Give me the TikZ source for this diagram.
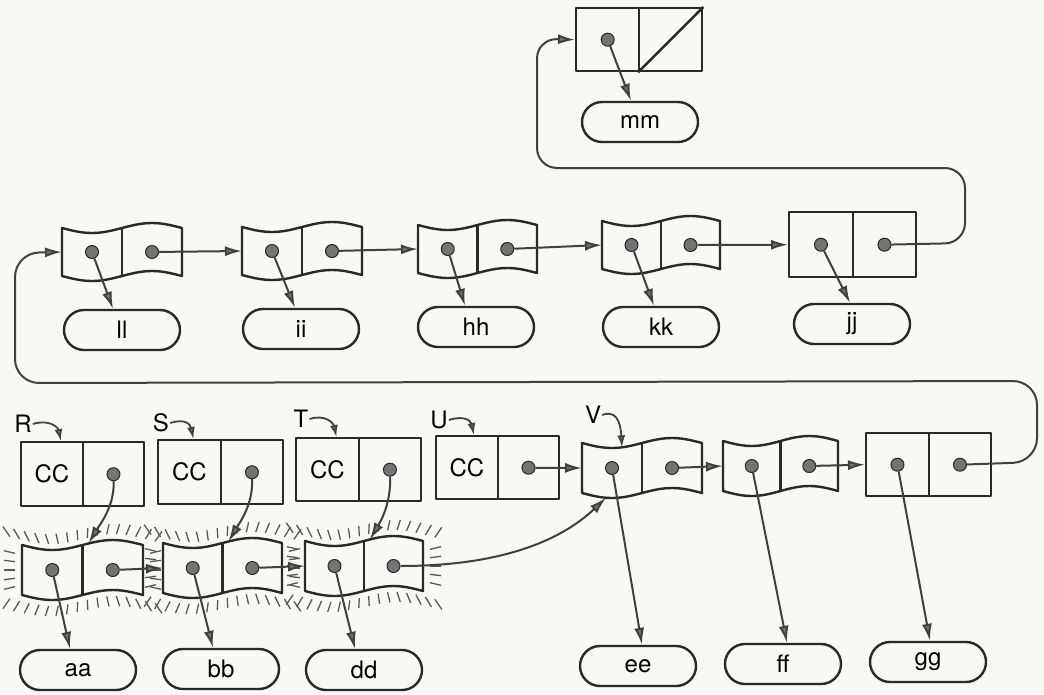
\documentclass[tikz,border=0pt]{standalone}
\usepackage{fontspec}
\setmainfont{TeX Gyre Heros}
\usetikzlibrary{arrows.meta,calc}
\definecolor{ink}{gray}{0.16}
\definecolor{ptrc}{gray}{0.25}
\definecolor{tipc}{gray}{0.45}
\definecolor{dotc}{gray}{0.45}
\definecolor{halc}{gray}{0.35}
\definecolor{paper}{RGB}{249,248,243}
\newcommand\dlabfont{\fontsize{24}{27}\selectfont}
% wavy two-cell record: name, x0, y0 (top), W, H
\newcommand\wavy[5]{%
  \draw[box] plot[domain=0:1,samples=30] ({#2+#4*\x},{#3+5*sin(360*\x)})
     -- plot[domain=0:1,samples=30] ({#2+#4*(1-\x)},{#3+#5+5*sin(360*(1-\x))}) -- cycle;
  \draw[box] ({#2+#4/2},#3) -- ({#2+#4/2},{#3+#5});
  \coordinate (#1-l) at (#2,{#3+#5/2});
  \coordinate (#1-t) at ({#2+0.55*#4},{#3+5*sin(198)});
  \coordinate (#1-q) at ({#2+#4/3},{#3+5*sin(120)});
  \coordinate (#1-bt) at ({#2+0.2*#4},{#3+#5+5*sin(72)});
  \node[dot] (#1-a) at ({#2+#4/4},{#3+#5/2}) {};
  \node[dot] (#1-b) at ({#2+3*#4/4},{#3+#5/2}) {};
}
% rectangular two-cell record: name, x0, y0, W, H, left text
\newcommand\rbox[6]{%
  \node[cell, minimum width={#4/2}, minimum height=#5, anchor=north west] (#1-L) at (#2,#3) {#6};
  \node[cell, minimum width={#4/2}, minimum height=#5, anchor=north west] (#1-R) at ({#2+#4/2},#3) {};
}
% halo of ticks: x0, y0, W, H
\newcommand\halo[4]{%
  \foreach \hi in {-1,...,14}{
    \pgfmathsetmacro\haloT{\hi/13}
    \pgfmathsetmacro\haloX{#1+#3*\haloT}
    \pgfmathsetmacro\haloY{#2+5*sin(360*\haloT)}
    \pgfmathsetmacro\haloQ{#2+#4+5*sin(360*\haloT)}
    \pgfmathsetmacro\haloD{(\haloT-0.5)*12}
    \draw[tick] ({\haloX+\haloD*0.4},{\haloY-6}) -- ++(\haloD,-10);
    \draw[tick] ({\haloX+\haloD*0.4},{\haloQ+6}) -- ++(\haloD,10);
  }
  \foreach \hj in {1,...,5}{
    \pgfmathsetmacro\haloS{\hj/6}
    \pgfmathsetmacro\haloE{(\haloS-0.5)*8}
    \draw[tick] ({#1-7},{#2+#4*\haloS}) -- ++(-11,\haloE);
    \draw[tick] ({#1+#3+7},{#2+#4*\haloS}) -- ++(11,\haloE);
  }
}
\begin{document}
\begin{tikzpicture}[x=1pt,y=-1pt,line join=round,
  box/.style={draw=ink, line width=2.4pt},
  cell/.style={draw=ink, line width=2.4pt, inner sep=0pt, font=\dlabfont},
  ptr/.style={draw=ptrc, line width=2pt, -{Latex[length=17pt,width=10pt,fill=tipc]}},
  sptr/.style={draw=ptrc, line width=1.8pt, -{Latex[length=12pt,width=8pt,fill=tipc]}},
  dot/.style={circle, draw=ink, fill=dotc, line width=1pt, inner sep=0pt, minimum size=13pt},
  lab/.style={draw=ink, line width=2.4pt, rounded corners=20pt, minimum width=116pt, minimum height=40pt, inner sep=0pt, font=\dlabfont},
  txt/.style={inner sep=1pt, font=\dlabfont},
  tick/.style={draw=halc, line width=1.3pt}]
\fill[paper] (0,0) rectangle (1044,694);
\useasboundingbox (0,0) rectangle (1044,694);

% ---- top record (mm)
\rbox{mmb}{575}{7}{126}{63}{}
\draw[box] (mmb-R.north east) -- (mmb-R.south west);
\node[dot] (mmb-d) at (mmb-L.center) {};
\node[lab] (mm) at (640,122) {mm};
\draw[ptr] (mmb-d) -- ($(mm.north)+(-9,0)$);

% ---- second row
\wavy{N1}{62}{228}{120}{48}
\wavy{N2}{242}{227}{120}{48}
\wavy{N3}{418}{225}{119}{48}
\wavy{N4}{602}{221}{118}{48}
\rbox{jjb}{788}{211}{127}{65}{}
\node[dot] (jjb-da) at (jjb-L.center) {};
\node[dot] (jjb-db) at (jjb-R.center) {};
\node[lab] (ll) at (122,330) {ll};
\node[lab] (ii) at (301,329) {ii};
\node[lab] (hh) at (476,327) {hh};
\node[lab] (kk) at (661,327) {kk};
\node[lab] (jj) at (852,324) {jj};
\draw[ptr] (N1-b) -- (N2-l);
\draw[ptr] (N2-b) -- (N3-l);
\draw[ptr] (N3-b) -- (N4-l);
\draw[ptr] (N4-b) -- (jjb-L.west);
\draw[ptr] (N1-a) -- ($(ll.north)+(-9,0)$);
\draw[ptr] (N2-a) -- ($(ii.north)+(-6,0)$);
\draw[ptr] (N3-a) -- ($(hh.north)+(-11,0)$);
\draw[ptr] (N4-a) -- ($(kk.north)+(-7,0)$);
\draw[ptr] (jjb-da) -- ($(jj.north)+(-2,0)$);
\draw[ptr, rounded corners=20pt] (jjb-db) -- (965,243) -- (965,168) -- (537,168) -- (537,38.5) -- (mmb-L.west);

% ---- CC row
\rbox{R}{20}{441}{123}{64}{CC}
\rbox{S}{157}{439}{125}{64}{CC}
\rbox{T}{295}{437}{125}{63}{CC}
\rbox{U}{435}{435}{123}{63}{CC}
\node[dot] (R-d) at (R-R.center) {};
\node[dot] (S-d) at (S-R.center) {};
\node[dot] (T-d) at (T-R.center) {};
\node[dot] (U-d) at (U-R.center) {};
\wavy{V}{582}{443}{120}{50}
\wavy{F}{723}{441}{115}{50}
\rbox{G}{865}{432}{125}{63}{}
\node[dot] (G-da) at (G-L.center) {};
\node[dot] (G-db) at (G-R.center) {};
\node[txt] (Rt) at (23,424) {R};
\node[txt] (St) at (161,423) {S};
\node[txt] (Tt) at (301,419) {T};
\node[txt] (Ut) at (439,420) {U};
\node[txt] (Vt) at (593,415) {V};
\draw[sptr] (Rt.east) .. controls +(16,-5) and +(-3,-14) .. ($(R-L.north)+(9,0)$);
\draw[sptr] (St.east) .. controls +(16,-5) and +(-3,-14) .. ($(S-L.north)+(4,0)$);
\draw[sptr] (Tt.east) .. controls +(16,-5) and +(-3,-14) .. ($(T-L.north)+(9,0)$);
\draw[sptr] (Ut.east) .. controls +(16,-5) and +(-3,-14) .. ($(U-L.north)+(7,0)$);
\draw[sptr] (Vt.east) .. controls +(18,-7) and +(-1,-16) .. (V-q);
\draw[ptr] (U-d) -- (V-l);
\draw[ptr] (V-b) -- (F-l);
\draw[ptr] (F-b) -- (G-L.west);
\draw[ptr, rounded corners=24pt] (G-db) -- (1037,462) -- (1037,381) -- (15,383) -- (15,253) -- (N1-l);

% ---- bottom row (haloed)
\halo{22}{545}{121}{50}
\halo{163}{543}{119}{50}
\halo{305}{541}{118}{50}
\wavy{A}{22}{545}{121}{50}
\wavy{B}{163}{543}{119}{50}
\wavy{D}{305}{541}{118}{50}
\draw[ptr] (A-b) -- (B-l);
\draw[ptr] (B-b) -- (D-l);
\draw[ptr] (D-b) .. controls (520,566) and (572,530) .. (V-bt);
\draw[ptr] (R-d) .. controls +(1,32) and +(12,-20) .. (A-t);
\draw[ptr] (S-d) .. controls +(1,32) and +(12,-20) .. (B-t);
\draw[ptr] (T-d) .. controls +(1,32) and +(12,-20) .. (D-t);

% ---- bottom labels
\node[lab] (aa) at (78,670) {aa};
\node[lab] (bb) at (221,669) {bb};
\node[lab] (dd) at (364,670) {dd};
\node[lab] (ee) at (638,666) {ee};
\node[lab] (ff) at (783,664) {ff};
\node[lab] (gg) at (928,662) {gg};
\draw[ptr] (A-a) -- ($(aa.north)+(-8,0)$);
\draw[ptr] (B-a) -- ($(bb.north)+(-8,0)$);
\draw[ptr] (D-a) -- ($(dd.north)+(-9,0)$);
\draw[ptr] (V-a) -- ($(ee.north)+(4,0)$);
\draw[ptr] (F-a) -- ($(ff.north)+(4,0)$);
\draw[ptr] (G-da) -- ($(gg.north)+(2,0)$);
\end{tikzpicture}
\end{document}
